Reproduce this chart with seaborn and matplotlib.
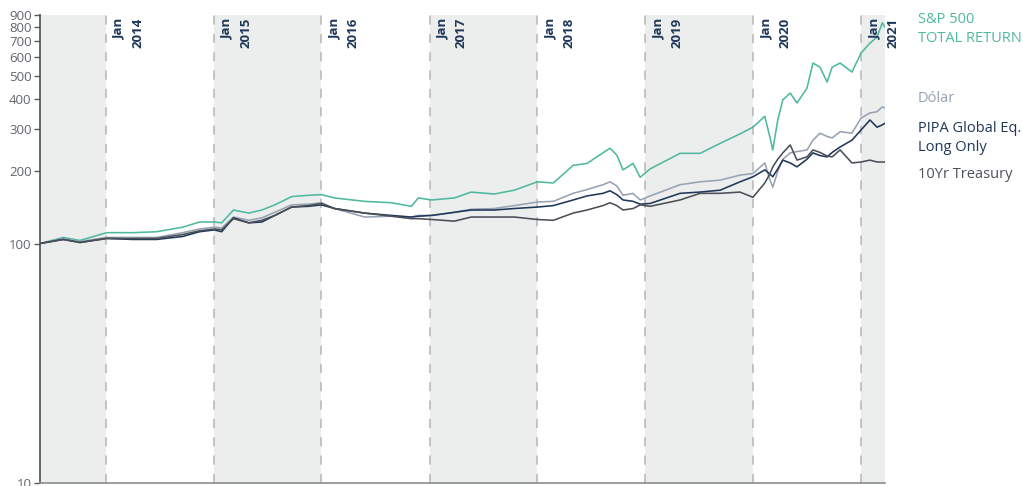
import matplotlib
matplotlib.use("Agg")
import matplotlib.pyplot as plt
import matplotlib.ticker as mticker
import pandas as pd
import seaborn as sns

# ---- data ----
dates = ["2013-05-23", "2013-08-10", "2013-10-05", "2014-01-04", "2014-04-01",
         "2014-06-22", "2014-09-18", "2014-11-14", "2015-01-04", "2015-01-28",
         "2015-03-09", "2015-04-30", "2015-06-13", "2015-07-27", "2015-09-22",
         "2015-11-18", "2016-01-01",
         "2016-02-14", "2016-05-26", "2016-08-25", "2016-10-31", "2016-11-24",
         "2017-01-08", "2017-03-26", "2017-05-22", "2017-08-08", "2017-10-15",
         "2018-01-01", "2018-02-24", "2018-05-02", "2018-06-18", "2018-08-11",
         "2018-09-04", "2018-09-27", "2018-10-18", "2018-11-21", "2018-12-15",
         "2019-01-18",
         "2019-04-29", "2019-07-06", "2019-09-12",
         "2019-11-18", "2020-01-01", "2020-02-10", "2020-02-27", "2020-03-08",
         "2020-03-25", "2020-04-11", "2020-05-06", "2020-05-29", "2020-07-02",
         "2020-07-22", "2020-08-15", "2020-09-08", "2020-09-25", "2020-10-22",
         "2020-12-01", "2021-01-01", "2021-01-31", "2021-02-24", "2021-03-14",
         "2021-03-23"]

sp500 = [100, 106, 103, 111, 111, 112, 117, 123, 123, 122,
         138, 134, 138, 145, 157, 159, 160,
         155, 150, 148, 143, 155, 152, 155, 164, 161, 167,
         181, 179, 212, 216, 239, 250, 234, 203, 216, 189, 205,
         238, 238, 262,
         287, 306, 340, 279, 246, 328, 398, 425, 386, 446,
         567, 545, 472, 545, 567, 520, 624, 687, 728, 835, 800]

dolar = [100, 105, 102, 106, 106, 106, 111, 115, 117, 116,
         129, 125, 128, 135, 145, 146, 148,
         140, 129, 130, 129, 131, 131, 135, 139, 140, 144,
         149, 150, 162, 168, 176, 181, 174, 159, 162, 152, 158,
         176, 181, 184,
         193, 196, 217, 185, 172, 200, 225, 239, 242, 246,
         270, 289, 280, 276, 293, 289, 334, 351, 355, 372, 368]

pipa = [100, 104, 101, 105, 104, 104, 107, 112, 114, 112,
        128, 122, 123, 131, 142, 143, 145,
        140, 134, 131, 129, 130, 131, 135, 138, 138, 140,
        142, 144, 152, 158, 162, 166, 160, 152, 150, 146, 147,
        162, 164, 167,
        181, 190, 203, 195, 190, 205, 223, 217, 209, 225,
        239, 233, 230, 240, 253, 270, 298, 328, 306, 313, 318]

treasury = [100, 104, 101, 105, 105, 105, 109, 113, 115, 114,
            127, 122, 125, 131, 142, 144, 147,
            140, 134, 130, 127, 127, 126, 124, 129, 129, 129,
            126, 125, 134, 138, 144, 148, 144, 138, 140, 145, 143,
            152, 162, 162,
            164, 156, 179, 195, 209, 225, 239, 258, 223, 230,
            246, 240, 232, 230, 246, 217, 219, 223, 219, 219, 219]

series_names = ["S&P 500\nTOTAL RETURN", "Dólar", "PIPA Global Eq.\nLong Only", "10Yr Treasury"]
series_values = [sp500, dolar, pipa, treasury]
year_labels = ["2014", "2015", "2016", "2017", "2018", "2019", "2020", "2021"]
ytick_values = [10, 100, 200, 300, 400, 500, 600, 700, 800, 900]

colors = ["#4fb99d", "#97a2b3", "#1f3759", "#4b5056"]

# ---- build long-form table ----
frames = []
for name, vals in zip(series_names, series_values):
    frames.append(pd.DataFrame({"date": pd.to_datetime(dates), "value": vals, "series": name}))
df = pd.concat(frames, ignore_index=True)

sns.set_style("white")
plt.rcParams["font.family"] = ["Open Sans", "DejaVu Sans"]

fig = plt.figure(figsize=(10.23, 4.86), dpi=100)
ax = fig.add_axes([40 / 1023, 1 - 483 / 486, 845 / 1023, 468 / 486])

start = pd.Timestamp(dates[0])
end = pd.Timestamp(dates[-1])

# alternating shaded bands
jan_dates = [pd.Timestamp(f"{y}-01-01") for y in year_labels]
edges = [start] + jan_dates + [end]
for i in range(len(edges) - 1):
    if i % 2 == 0:
        ax.axvspan(edges[i], edges[i + 1], color="#eceeee", lw=0, zorder=0)

for d in jan_dates:
    ax.axvline(d, color="#b5b5b5", lw=1.1, ls=(0, (6, 6)), zorder=1)

sns.lineplot(data=df, x="date", y="value", hue="series", palette=colors,
             hue_order=series_names, linewidth=1.15, ax=ax, legend=False, zorder=3)

ax.set_yscale("log")
ax.set_ylim(10, 900)
ax.set_xlim(start, end)
ax.yaxis.set_major_locator(mticker.FixedLocator(ytick_values))
ax.yaxis.set_major_formatter(mticker.FixedFormatter([str(v) for v in ytick_values]))
ax.yaxis.set_minor_locator(mticker.NullLocator())
ax.tick_params(axis="y", which="major", length=4, width=1, color="#555a60",
               labelsize=9.5, labelcolor="#62666b", pad=2, left=True)
ax.set_xticks([])
ax.set_xlabel("")
ax.set_ylabel("")

for s in ["top", "right"]:
    ax.spines[s].set_visible(False)
ax.spines["left"].set_color("#4b5056")
ax.spines["left"].set_linewidth(1.2)
ax.spines["bottom"].set_color("#8a8d90")
ax.spines["bottom"].set_linewidth(1.2)

# year labels
for d, y in zip(jan_dates, year_labels):
    ax.annotate(f"Jan\n{y}", xy=(d, 1.0), xycoords=("data", "axes fraction"),
                xytext=(5, -2), textcoords="offset points", rotation=90,
                ha="left", va="top", multialignment="right",
                fontsize=9.5, fontweight="bold", color="#1f3759",
                linespacing=1.55, zorder=5)

# right-side series labels (vertical centres in pixels from top)
label_y = [29, 98, 138, 174]
for name, c, yp in zip(series_names, colors, label_y):
    fig.text(918 / 1023, 1 - yp / 486, name, color=c, fontsize=10.5,
             ha="left", va="center", linespacing=1.45)

fig.savefig("out.png", dpi=100)
